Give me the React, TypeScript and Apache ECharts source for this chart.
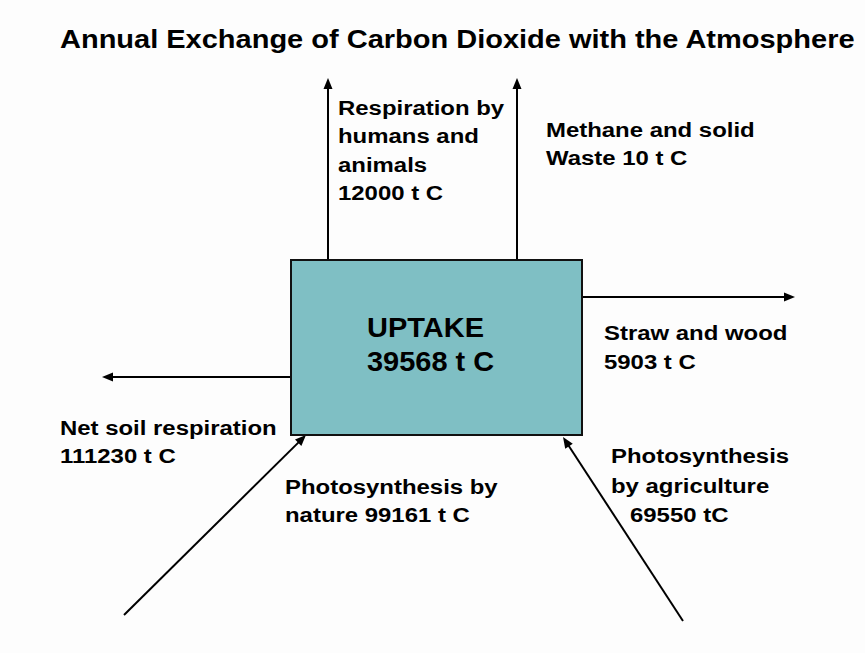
import React, { useEffect, useRef } from "react";
import * as echarts from "echarts";

const title = "Annual Exchange of Carbon Dioxide with the Atmosphere";
const uptakeLabel = "UPTAKE";
const uptakeValue = 39568;
const flowNames = [
  "Respiration by humans and animals",
  "Methane and solid Waste",
  "Straw and wood",
  "Net soil respiration",
  "Photosynthesis by nature",
  "Photosynthesis by agriculture",
];
const flowValues = [12000, 10, 5903, 111230, 99161, 69550];

// layout only
const W = 865;
const H = 653;
const box = { x: 291, y: 260, w: 291, h: 175 };
const arrows: number[][] = [
  [328, 260, 328, 78],
  [517, 260, 517, 78],
  [582, 297, 795, 297],
  [291, 377, 102, 377],
  [124, 615, 306, 435],
  [683, 621, 563, 437],
];

function head(x1: number, y1: number, x2: number, y2: number) {
  const a = Math.atan2(y2 - y1, x2 - x1);
  const L = 11, hw = 4.5;
  const bx = x2 - L * Math.cos(a), by = y2 - L * Math.sin(a);
  const px = -Math.sin(a) * hw, py = Math.cos(a) * hw;
  return [
    [x2, y2],
    [bx + px, by + py],
    [bx - px, by - py],
  ];
}

export default function App() {
  const ref = useRef<HTMLDivElement>(null);
  useEffect(() => {
    if (!ref.current) return;
    const chart = echarts.init(ref.current, undefined, { renderer: "svg" });
    const fam = "'Liberation Sans', Arial, sans-serif";
    const txt = (s: string, x: number, y: number, size = 21, sx = 1.14) => ({
      type: "text",
      z: 10,
      x,
      y,
      scaleX: sx,
      scaleY: 1,
      style: {
        text: s,
        x: 0,
        y: 0,
        fill: "#000",
        font: `bold ${size}px ${fam}`,
        textVerticalAlign: "middle",
        textAlign: "left",
      },
    });
    const lines: any[] = [];
    arrows.forEach(([x1, y1, x2, y2]) => {
      const a = Math.atan2(y2 - y1, x2 - x1);
      lines.push({
        type: "line",
        shape: { x1, y1, x2: x2 - 8 * Math.cos(a), y2: y2 - 8 * Math.sin(a) },
        style: { stroke: "#000", lineWidth: 2 },
      });
      lines.push({
        type: "polygon",
        shape: { points: head(x1, y1, x2, y2) },
        style: { fill: "#000" },
      });
    });
    const v = flowValues;
    chart.setOption({
      animation: false,
      backgroundColor: "#fdfdfd",
      graphic: [
        ...lines,
        {
          type: "rect",
          shape: { x: box.x, y: box.y, width: box.w, height: box.h },
          style: { fill: "#7fbfc4", stroke: "#111", lineWidth: 2 },
        },
        txt(title, 60, 39, 25, 1.16),
        txt(uptakeLabel, 367, 327, 28, 1.035),
        txt(`${uptakeValue} t C`, 367, 361, 28, 1.035),
        txt("Respiration by", 338, 108),
        txt("humans and", 338, 136),
        txt("animals", 338, 165),
        txt(`${v[0]} t C`, 338, 193),
        txt("Methane and solid", 546, 130),
        txt(`Waste ${v[1]} t C`, 546, 158),
        txt("Straw and wood", 604, 333),
        txt(`${v[2]} t C`, 604, 362),
        txt("Net soil respiration", 60, 428),
        txt(`${v[3]} t C`, 60, 456),
        txt("Photosynthesis by", 285, 487),
        txt(`nature ${v[4]} t C`, 285, 515),
        txt("Photosynthesis", 611, 456),
        txt("by agriculture", 611, 486),
        txt(`${v[5]} tC`, 630, 515),
      ],
    });
    return () => chart.dispose();
  }, []);
  return (
    <div
      ref={ref}
      style={{ position: "absolute", left: 0, top: 0, width: W, height: H }}
    />
  );
}
